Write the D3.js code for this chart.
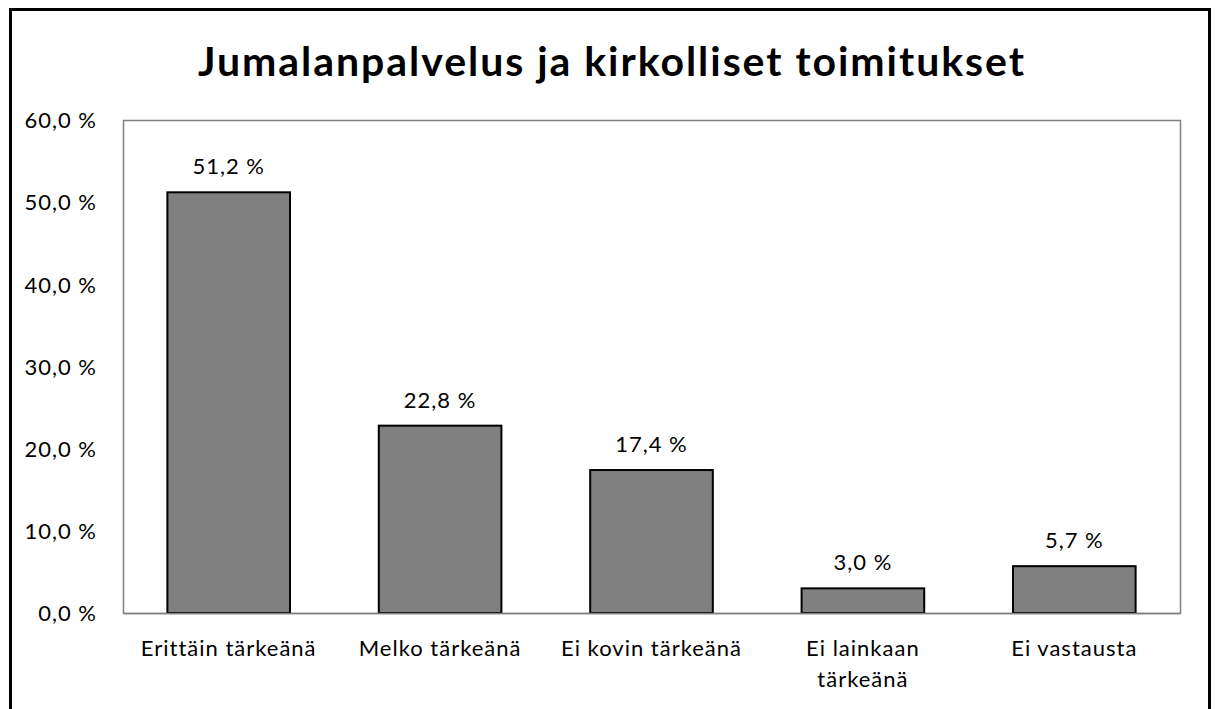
<!DOCTYPE html>
<meta charset="utf-8">
<head>
<title>Jumalanpalvelus ja kirkolliset toimitukset</title>
<style>
  body { margin: 0; background: #fff; }
  svg { display: block; }
  svg text { font-family: Lato, "Open Sans", sans-serif; fill: #000; }
  .bar { fill: #808080; stroke: #000; stroke-width: 2; }
  .tick text { font-size: 22px; letter-spacing: 1px; }
  .labels { font-size: 22px; letter-spacing: 1px; }
</style>
</head>
<body>
<script src="https://cdn.jsdelivr.net/npm/d3@7"></script>
<script>

// data
var categories = ["Erittäin tärkeänä", "Melko tärkeänä", "Ei kovin tärkeänä", "Ei lainkaan tärkeänä", "Ei vastausta"];
var values = [51.2, 22.8, 17.4, 3.0, 5.7];
var yTicks = [0, 10, 20, 30, 40, 50, 60];
var title = "Jumalanpalvelus ja kirkolliset toimitukset";

var W = 1217, H = 709;
var margin = {top: 120, right: 37, bottom: 96, left: 123},
    width = W - margin.left - margin.right,
    height = H - margin.top - margin.bottom;

var fmt = function(v) { return d3.format(".1f")(v).replace(".", ",") + " %"; };

var svgRoot = d3.select("body").append("svg")
    .attr("width", W)
    .attr("height", H);

// outer frame (bottom runs off the picture)
svgRoot.append("rect")
    .attr("x", 10.5).attr("y", 9.5)
    .attr("width", 1199).attr("height", 720)
    .attr("fill", "none").attr("stroke", "#000").attr("stroke-width", 3);

svgRoot.append("text")
    .attr("x", 611).attr("y", 76)
    .attr("text-anchor", "middle")
    .attr("textLength", 826).attr("lengthAdjust", "spacing")
    .style("font-size", "41px").style("font-weight", "bold")
    .text(title);

var svg = svgRoot.append("g")
    .attr("transform", "translate(" + margin.left + "," + margin.top + ")");

var x = d3.scaleBand().domain(categories).range([0, width])
    .paddingInner(0.42).paddingOuter(0.21);
var y = d3.scaleLinear().domain([0, 60]).range([height, 0]);

// plot frame
svg.append("rect")
    .attr("x", 0.5).attr("y", 0.5)
    .attr("width", width).attr("height", height)
    .attr("fill", "none").attr("stroke", "#808080").attr("stroke-width", 1.5);

svg.selectAll(".bar")
    .data(values)
  .enter().append("rect")
    .attr("class", "bar")
    .attr("x", function(d, i) { return x(categories[i]); })
    .attr("width", x.bandwidth())
    .attr("y", function(d) { return y(d); })
    .attr("height", function(d) { return height - y(d); });

svg.selectAll(".labels")
    .data(values)
  .enter().append("text")
    .attr("class", "labels")
    .attr("text-anchor", "middle")
    .attr("x", function(d, i) { return x(categories[i]) + x.bandwidth() / 2; })
    .attr("y", function(d) { return y(d) - 18; })
    .text(fmt);

// y axis
var yAxis = svg.append("g")
    .call(d3.axisLeft(y).tickValues(yTicks).tickFormat(fmt).tickSize(0).tickPadding(26));
yAxis.select(".domain").remove();
yAxis.selectAll("text").attr("dy", "0.35em");

// x axis with wrapped labels
var xAxis = svg.append("g")
    .attr("transform", "translate(0," + height + ")")
    .call(d3.axisBottom(x).tickSize(0).tickPadding(0));
xAxis.select(".domain").attr("stroke", "#808080").attr("stroke-width", 1.5);
xAxis.selectAll("text").each(function(d) {
    var t = d3.select(this).text(null).attr("y", 0).attr("dy", null);
    var lines = d === "Ei lainkaan tärkeänä" ? ["Ei lainkaan", "tärkeänä"] : [d];
    lines.forEach(function(l, k) {
        t.append("tspan").attr("x", 0).attr("y", 43 + k * 31).text(l);
    });
});

</script>
</body>
